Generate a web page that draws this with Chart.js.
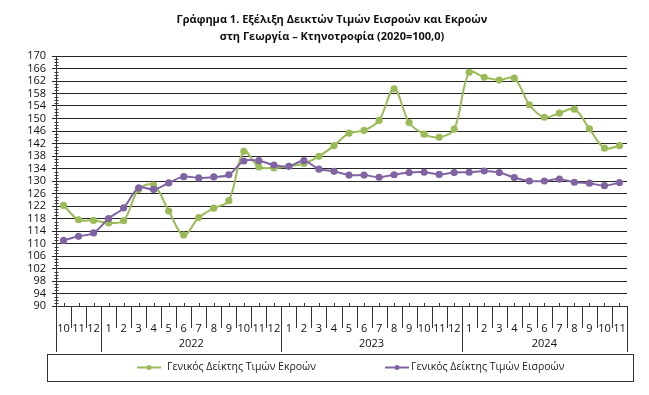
<!DOCTYPE html>
<html>
<head>
<meta charset="utf-8">
<script src="https://cdn.jsdelivr.net/npm/chart.js@4.4.0/dist/chart.umd.min.js"></script>
<style>
    html, body { margin: 0; padding: 0; background: #fff; }
</style>
</head>
<body>
<canvas id="grafico" width="649" height="395"></canvas>
<script>
// Meses (eje X) y años que los agrupan
var meses = ['10', '11', '12',
    '1', '2', '3', '4', '5', '6', '7', '8', '9', '10', '11', '12',
    '1', '2', '3', '4', '5', '6', '7', '8', '9', '10', '11', '12',
    '1', '2', '3', '4', '5', '6', '7', '8', '9', '10', '11'];
var anios = ['', '2022', '2023', '2024'];
var mesesPorAnio = [3, 12, 12, 11];

// Índice general de precios de productos (Εκροών)
var indiceEkroon = [122.2, 117.6, 117.4,
    116.6, 117.3, 127.3, 128.7, 120.4, 112.7, 118.3, 121.3, 123.7, 139.5, 134.5, 134.2,
    134.7, 135.6, 137.9, 141.3, 145.3, 146.2, 149.4, 159.5, 148.7, 145.0, 144.0, 146.6,
    164.8, 163.2, 162.3, 162.9, 154.4, 150.4, 151.7, 153.0, 146.7, 140.5, 141.3];

// Índice general de precios de insumos (Εισροών)
var indiceEisroon = [111.0, 112.3, 113.4,
    118.0, 121.4, 127.8, 127.3, 129.4, 131.4, 131.0, 131.3, 132.0, 136.4, 136.5, 135.1,
    134.7, 136.5, 133.8, 133.1, 131.9, 131.9, 131.2, 132.0, 132.7, 132.8, 132.1, 132.7,
    132.8, 133.2, 132.7, 131.1, 130.0, 130.0, 130.6, 129.6, 129.3, 128.5, 129.5];

var nombres = ['Γενικός Δείκτης Τιμών Εκροών', 'Γενικός Δείκτης Τιμών Εισροών'];
var tituloLineas = ['Γράφημα 1. Εξέλιξη Δεικτών Τιμών Εισροών και Εκροών',
    'στη Γεωργία – Κτηνοτροφία (2020=100,0)'];

var VERDE = '#9BBB59';
var MORADO = '#8064A2';
var FUENTE = "'Open Sans', 'DejaVu Sans', sans-serif";

// Título de dos líneas, un poco a la derecha del centro como en el original
var tituloPropio = {
    id: 'tituloPropio',
    afterDraw: function (chart) {
        var ctx = chart.ctx;
        ctx.save();
        ctx.fillStyle = '#111';
        ctx.font = 'bold 11px ' + FUENTE;
        ctx.textAlign = 'center';
        ctx.textBaseline = 'middle';
        ctx.fillText(tituloLineas[0], 332, 20);
        ctx.fillText(tituloLineas[1], 332, 37);
        ctx.restore();
    }
};

// Cajas del eje X: separadores de meses, años y marcas
var ejeAgrupado = {
    id: 'ejeAgrupado',
    afterDraw: function (chart) {
        var ctx = chart.ctx;
        var x = chart.scales.x;
        var y = chart.scales.y;
        var area = chart.chartArea;
        var paso = x.getPixelForValue(1) - x.getPixelForValue(0);
        var y0 = area.bottom;
        ctx.save();
        ctx.strokeStyle = '#333';
        ctx.lineWidth = 1;

        // separadores de meses
        for (var i = 0; i <= meses.length; i++) {
            var px = Math.round(x.getPixelForValue(i) - paso / 2) + 0.5;
            ctx.beginPath();
            ctx.moveTo(px, y0);
            ctx.lineTo(px, y0 + 22);
            ctx.stroke();
        }
        // marcas pequeñas en el centro de cada mes
        for (var i = 0; i < meses.length; i++) {
            var pc = Math.round(x.getPixelForValue(i)) + 0.5;
            ctx.beginPath();
            ctx.moveTo(pc, y0);
            ctx.lineTo(pc, y0 - 3);
            ctx.stroke();
        }
        // separadores y etiquetas de años
        var inicio = 0;
        ctx.fillStyle = '#111';
        ctx.font = '11px ' + FUENTE;
        ctx.textAlign = 'center';
        ctx.textBaseline = 'middle';
        for (var g = 0; g <= anios.length; g++) {
            var bx = Math.round(x.getPixelForValue(inicio) - paso / 2) + 0.5;
            ctx.beginPath();
            ctx.moveTo(bx, y0);
            ctx.lineTo(bx, y0 + 46);
            ctx.stroke();
            if (g < anios.length) {
                var centro = (x.getPixelForValue(inicio) + x.getPixelForValue(inicio + mesesPorAnio[g] - 1)) / 2;
                ctx.fillText(anios[g], centro, y0 + 38);
                inicio += mesesPorAnio[g];
            }
        }
        // marcas menores del eje Y
        var axX = Math.round(area.left) + 0.5;
        for (var v = y.min; v <= y.max; v++) {
            if ((v - y.min) % 4 === 0) continue;
            var py = Math.round(y.getPixelForValue(v)) + 0.5;
            ctx.beginPath();
            ctx.moveTo(axX - 2, py);
            ctx.lineTo(axX + 2, py);
            ctx.stroke();
        }
        ctx.restore();
    }
};

// Leyenda dentro de un recuadro
var leyendaCaja = {
    id: 'leyendaCaja',
    afterDraw: function (chart) {
        var ctx = chart.ctx;
        var ds = chart.data.datasets;
        var posiciones = [{ linea: 137, texto: 167 }, { linea: 385, texto: 411 }];
        var ly = 367.5;
        ctx.save();
        ctx.strokeStyle = '#333';
        ctx.lineWidth = 1;
        ctx.strokeRect(47.5, 354.5, 586, 27);
        ctx.font = '10.5px ' + FUENTE;
        ctx.textBaseline = 'middle';
        ctx.textAlign = 'left';
        for (var k = 0; k < ds.length; k++) {
            var p = posiciones[k];
            ctx.strokeStyle = ds[k].borderColor;
            ctx.lineWidth = 2;
            ctx.beginPath();
            ctx.moveTo(p.linea, ly);
            ctx.lineTo(p.linea + 24, ly);
            ctx.stroke();
            ctx.fillStyle = ds[k].borderColor;
            ctx.beginPath();
            ctx.arc(p.linea + 12, ly, 2.5, 0, Math.PI * 2);
            ctx.fill();
            ctx.fillStyle = '#222';
            ctx.fillText(ds[k].label, p.texto, ly);
        }
        ctx.restore();
    }
};

var ctx = document.getElementById('grafico').getContext('2d');
var grafico = new Chart(ctx, {
    type: 'line',
    data: {
        labels: meses,
        datasets: [{
            label: nombres[0],
            data: indiceEkroon,
            borderColor: VERDE,
            backgroundColor: VERDE,
            borderWidth: 2,
            pointRadius: 2.6,
            pointHoverRadius: 2.6,
            tension: 0.35,
            order: 2
        }, {
            label: nombres[1],
            data: indiceEisroon,
            borderColor: MORADO,
            backgroundColor: MORADO,
            borderWidth: 2,
            pointRadius: 2.6,
            pointHoverRadius: 2.6,
            tension: 0.35,
            order: 1
        }]
    },
    options: {
        responsive: false,
        animation: false,
        layout: { padding: { left: 0, right: 22, top: 56, bottom: 0 } },
        plugins: {
            legend: { display: false },
            tooltip: { enabled: false },
            title: { display: false }
        },
        scales: {
            x: {
                offset: true,
                grid: { display: false },
                border: { display: true, color: '#333', width: 1 },
                ticks: {
                    color: '#111',
                    font: { family: FUENTE, size: 11 },
                    padding: 8,
                    maxRotation: 0,
                    autoSkip: false
                },
                afterFit: function (scale) { scale.height = 89; }
            },
            y: {
                min: 90,
                max: 170,
                ticks: {
                    stepSize: 4,
                    autoSkip: false,
                    color: '#111',
                    font: { family: FUENTE, size: 11 },
                    padding: 6
                },
                grid: { color: '#262626', lineWidth: 1, tickLength: 4 },
                border: { display: true, color: '#333', width: 1 },
                afterFit: function (scale) { scale.width = 56; }
            }
        }
    },
    plugins: [tituloPropio, ejeAgrupado, leyendaCaja]
});
</script>
</body>
</html>
